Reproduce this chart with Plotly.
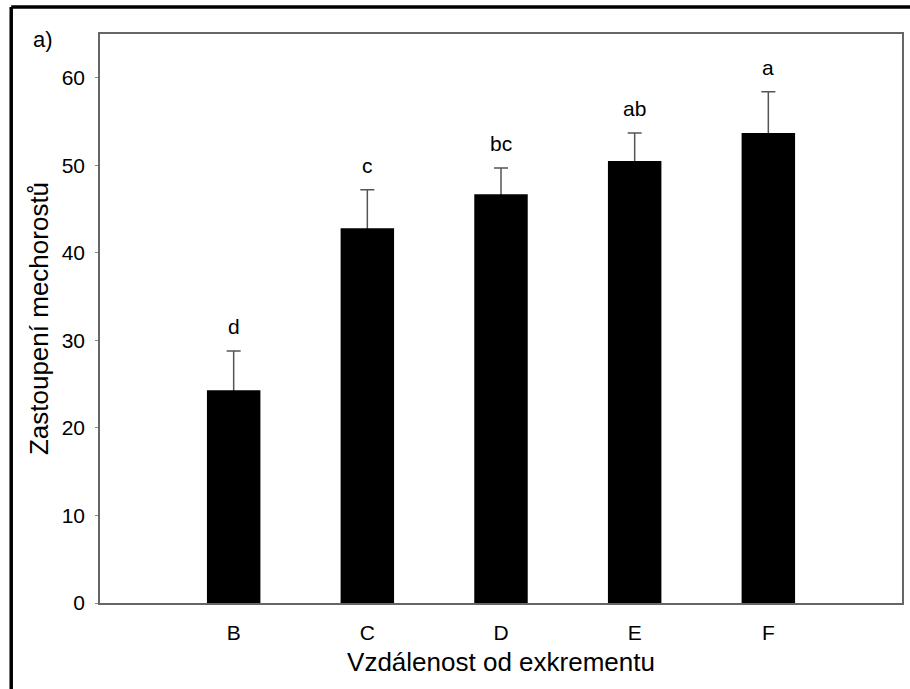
import plotly.graph_objects as go

categories = ["B", "C", "D", "E", "F"]
means = [24.3, 42.8, 46.7, 50.5, 53.7]
errors = [4.5, 4.4, 3.0, 3.2, 4.7]
letters = ["d", "c", "bc", "ab", "a"]
y_ticks = [0, 10, 20, 30, 40, 50, 60]

W, H = 910, 689
L, R, T, B = 100, 6, 34, 86
pw, ph = W - L - R, H - T - B

def px_x(x):
    return (x - L) / pw

def px_y(y):
    return (H - B - y) / ph

font = "Liberation Sans, Arial, sans-serif"

fig = go.Figure()
# error bars (symmetric, lower half hidden behind the black bars)
fig.add_trace(go.Bar(
    x=categories, y=means, width=0.4,
    marker=dict(color="rgba(0,0,0,0)", line=dict(width=0)),
    error_y=dict(type="data", array=errors, symmetric=True,
                 color="#555555", thickness=1.5, width=7),
    showlegend=False, hoverinfo="skip",
))
fig.add_trace(go.Bar(
    x=categories, y=means, width=0.4,
    marker=dict(color="black", line=dict(color="black", width=0)),
    showlegend=False,
))

for c, m, e, t in zip(categories, means, errors, letters):
    fig.add_annotation(x=c, y=m + e, text=t, showarrow=False, yanchor="bottom",
                       yshift=11, font=dict(family=font, size=21, color="black"))

fig.add_annotation(xref="paper", yref="paper", x=px_x(31), y=px_y(39), text="a)",
                   showarrow=False, xanchor="left", yanchor="middle",
                   font=dict(family=font, size=22, color="black"))

# outer frame (left and top edges visible)
fig.add_shape(type="line", xref="paper", yref="paper",
              x0=px_x(11), x1=px_x(11), y0=px_y(7), y1=px_y(700),
              line=dict(color="black", width=3.5))
fig.add_shape(type="line", xref="paper", yref="paper",
              x0=px_x(11), x1=px_x(920), y0=px_y(7), y1=px_y(7),
              line=dict(color="black", width=3.5))

fig.update_layout(
    width=W, height=H,
    barmode="overlay",
    margin=dict(l=L, r=R, t=T, b=B),
    paper_bgcolor="white", plot_bgcolor="white",
    font=dict(family=font, size=21, color="black"),
    xaxis=dict(
        range=[-1, 5], showline=True, linecolor="#666666", linewidth=1.5,
        mirror=True, ticks="", showgrid=False, zeroline=False,
        tickfont=dict(size=21), ticklabelstandoff=10,
        title=dict(text="Vzdálenost od exkrementu", font=dict(size=26), standoff=10),
    ),
    yaxis=dict(
        range=[0, 65], tickvals=y_ticks, showline=True, linecolor="#666666",
        linewidth=1.5, mirror=True, ticks="outside", ticklen=3, tickcolor="#888888",
        showgrid=False, zeroline=False, tickfont=dict(size=21), ticklabelstandoff=6,
        title=dict(text="Zastoupení mechorostů", font=dict(size=26), standoff=6),
    ),
)

fig.write_html(
    "out.html",
    config={"displayModeBar": False},
    post_script="document.body.style.margin='0px';document.body.style.overflow='hidden';",
)
